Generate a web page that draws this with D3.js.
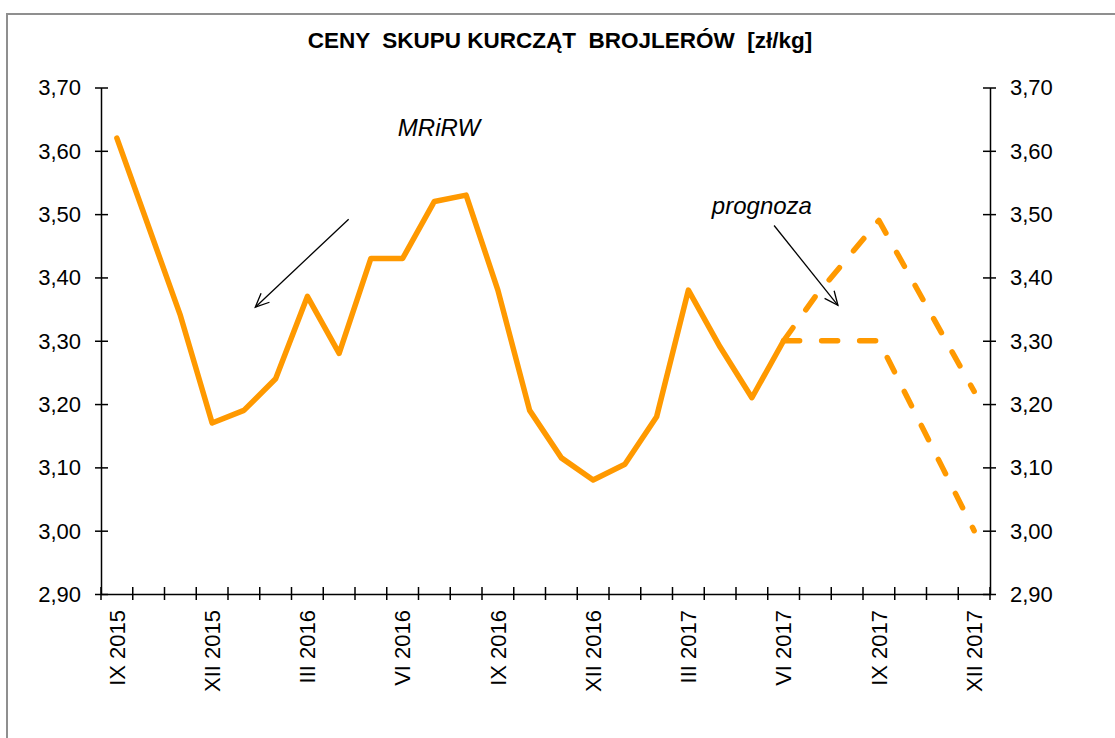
<!DOCTYPE html>
<html>
<head>
<meta charset="utf-8">
<script src="https://cdn.jsdelivr.net/npm/d3@7"></script>
<style>
  body { margin: 0; background: #fff; }
  svg { display: block; font-family: "Liberation Sans", Arial, sans-serif; }
</style>
</head>
<body>
<svg id="chart" width="1115" height="738"></svg>
<script>
// months IX 2015 .. XII 2017
var months = ['IX 2015','X 2015','XI 2015','XII 2015',
  'I 2016','II 2016','III 2016','IV 2016','V 2016','VI 2016','VII 2016','VIII 2016','IX 2016','X 2016','XI 2016','XII 2016',
  'I 2017','II 2017','III 2017','IV 2017','V 2017','VI 2017','VII 2017','VIII 2017','IX 2017','X 2017','XI 2017','XII 2017'];

// MRiRW prices IX 2015 .. VI 2017
var actual = [3.62, 3.48, 3.34, 3.17, 3.19, 3.24, 3.37, 3.28, 3.43, 3.43, 3.52, 3.53,
  3.38, 3.19, 3.115, 3.08, 3.105, 3.18, 3.38, 3.29, 3.21, 3.30];

// forecast VI 2017 .. XII 2017
var forecastMonths = ['VI 2017','VII 2017','VIII 2017','IX 2017','X 2017','XI 2017','XII 2017'];
var forecastHigh = [3.30, 3.37, 3.43, 3.49, 3.40, 3.31, 3.22];
var forecastLow = [3.30, 3.30, 3.30, 3.30, 3.20, 3.10, 3.00];

var yTicks = [2.90, 3.00, 3.10, 3.20, 3.30, 3.40, 3.50, 3.60, 3.70];

(function() {
var svg = d3.select('#chart');
var left = 101, right = 990, plotTop = 87.5, bottom = 594;
var orange = '#ff9900';

// outer frame
svg.append('rect')
  .attr('x', 7).attr('y', 14)
  .attr('width', 1200).attr('height', 1000)
  .attr('fill', 'none')
  .attr('stroke', '#8f8f8f')
  .attr('stroke-width', 2);

svg.append('text')
  .attr('x', 560).attr('y', 48)
  .attr('text-anchor', 'middle')
  .style('font-weight', 'bold')
  .style('font-size', '22.5px')
  .style('white-space', 'pre')
  .text('CENY  SKUPU KURCZĄT  BROJLERÓW  [zł/kg]');

var x = d3.scaleBand().domain(months).range([left, right]);
var y = d3.scaleLinear().domain([2.90, 3.70]).range([bottom, plotTop]);
var xc = function(m) { return x(m) + x.bandwidth() / 2; };
// fractional month index -> px, for annotations
var xi = d3.scaleLinear().domain([-0.5, months.length - 0.5]).range([left, right]);

var fmt = function(d) { return d.toFixed(2).replace('.', ','); };

// y axes, both sides
var yLeft = svg.append('g').attr('transform', 'translate(' + left + ',0)')
  .call(d3.axisLeft(y).tickValues(yTicks).tickFormat(fmt).tickSizeOuter(0));
var yRight = svg.append('g').attr('transform', 'translate(' + right + ',0)')
  .call(d3.axisRight(y).tickValues(yTicks).tickFormat(fmt).tickSizeOuter(0));

[yLeft, yRight].forEach(function(g, k) {
  var s = k == 0 ? -1 : 1;
  g.selectAll('.tick line').attr('x1', -7 * s).attr('x2', 6 * s);
  g.selectAll('.tick text').attr('x', s * 20).attr('dy', '0.34em');
});

// x axis: labels every third month at band centre, ticks at band edges
var xAxis = svg.append('g').attr('transform', 'translate(0,' + bottom + ')')
  .call(d3.axisBottom(x).tickSize(0).tickSizeOuter(0)
    .tickFormat(function(d, i) { return i % 3 == 0 ? d : ''; }));
xAxis.selectAll('.tick text')
  .attr('transform', 'rotate(-90)')
  .attr('text-anchor', 'end')
  .attr('x', -16).attr('y', 0).attr('dy', '0.35em');

var edges = months.map(function(m) { return x(m); }).concat([right]);
xAxis.selectAll('.edge').data(edges).enter().append('line')
  .attr('class', 'edge')
  .attr('x1', function(d) { return d; }).attr('x2', function(d) { return d; })
  .attr('y1', -7).attr('y2', 6)
  .attr('stroke', '#000');

svg.selectAll('.domain').attr('stroke', '#000').attr('stroke-width', 1.5);
svg.selectAll('.tick line, .edge').attr('stroke', '#000').attr('stroke-width', 1.5);
svg.selectAll('.tick text').style('font-size', '22px').style('font-family', '"Liberation Sans", Arial, sans-serif').attr('fill', '#000');

// lines
var line = d3.line()
  .x(function(d) { return xc(d[0]); })
  .y(function(d) { return y(d[1]); });

svg.append('path')
  .datum(d3.zip(months.slice(0, actual.length), actual))
  .attr('d', line)
  .attr('fill', 'none').attr('stroke', orange).attr('stroke-width', 5.5)
  .attr('stroke-linejoin', 'round').attr('stroke-linecap', 'round');

[forecastHigh, forecastLow].forEach(function(vals) {
  svg.append('path')
    .datum(d3.zip(forecastMonths, vals))
    .attr('d', line)
    .attr('fill', 'none').attr('stroke', orange).attr('stroke-width', 5.5)
    .attr('stroke-dasharray', '16,22')
    .attr('stroke-linejoin', 'round').attr('stroke-linecap', 'round');
});

// annotations (month index, price)
var arrows = [
  { from: [7.3, 3.492], to: [4.36, 3.353] },
  { from: [20.7, 3.482], to: [22.71, 3.356] }
];
arrows.forEach(function(a) {
  var x1 = xi(a.from[0]), y1 = y(a.from[1]), x2 = xi(a.to[0]), y2 = y(a.to[1]);
  var ang = Math.atan2(y2 - y1, x2 - x1), L = 15, w = 0.42;
  svg.append('line')
    .attr('x1', x1).attr('y1', y1).attr('x2', x2).attr('y2', y2)
    .attr('stroke', '#000').attr('stroke-width', 1.3);
  svg.append('path')
    .attr('d', 'M' + (x2 - L * Math.cos(ang - w)) + ',' + (y2 - L * Math.sin(ang - w)) +
      'L' + x2 + ',' + y2 +
      'L' + (x2 - L * Math.cos(ang + w)) + ',' + (y2 - L * Math.sin(ang + w)))
    .attr('fill', 'none').attr('stroke', '#000').attr('stroke-width', 1.3);
});

svg.append('text')
  .attr('x', xi(8.85)).attr('y', y(3.623))
  .style('font-size', '24px').style('font-style', 'italic')
  .text('MRiRW');
svg.append('text')
  .attr('x', xi(18.74)).attr('y', y(3.50))
  .style('font-size', '24px').style('font-style', 'italic')
  .text('prognoza');
})();
</script>
</body>
</html>
